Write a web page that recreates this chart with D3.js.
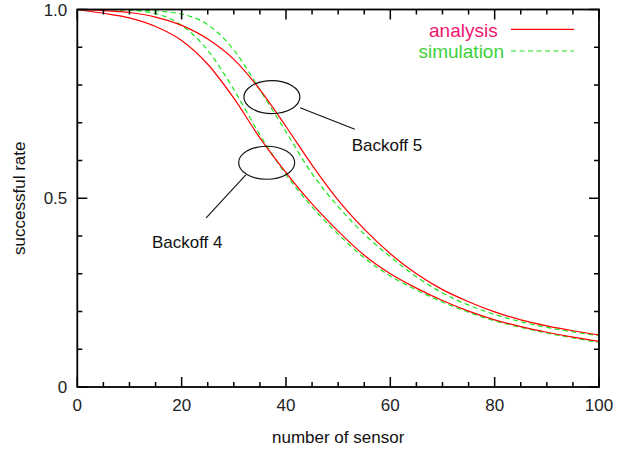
<!DOCTYPE html>
<html>
<head>
<meta charset="utf-8">
<script src="https://cdn.jsdelivr.net/npm/d3@7/dist/d3.min.js"></script>
<style>
  html, body { margin: 0; padding: 0; background: #fff; }
  svg { display: block; font-family: "Liberation Sans", Arial, sans-serif; }
</style>
</head>
<body>
<svg id="chart" width="618" height="454"></svg>
<script>
// Number of sensors (x) at which every series is sampled
const sensors = [0, 5, 10, 15, 20, 25, 30, 35, 40, 45, 50, 55, 60, 65, 70, 75, 80, 85, 90, 95, 100];

// Successful rate, analytical model
const analysisBackoff4 = [1.000, 0.990, 0.978, 0.955, 0.918, 0.855, 0.765, 0.660, 0.568, 0.485, 0.413,
                          0.349, 0.300, 0.262, 0.229, 0.201, 0.178, 0.160, 0.145, 0.132, 0.121];
const analysisBackoff5 = [1.000, 0.997, 0.992, 0.980, 0.958, 0.922, 0.868, 0.788, 0.690, 0.588, 0.495,
                          0.418, 0.353, 0.300, 0.258, 0.226, 0.199, 0.178, 0.162, 0.149, 0.138];

// Successful rate, simulation
const simulationBackoff4 = [1.000, 1.000, 0.998, 0.989, 0.958, 0.892, 0.788, 0.668, 0.563, 0.477, 0.405,
                            0.342, 0.294, 0.257, 0.225, 0.198, 0.175, 0.158, 0.143, 0.130, 0.118];
const simulationBackoff5 = [1.000, 1.000, 0.999, 0.996, 0.988, 0.960, 0.893, 0.787, 0.676, 0.565, 0.478,
                            0.405, 0.345, 0.292, 0.249, 0.217, 0.192, 0.173, 0.158, 0.146, 0.136];

// Axis ticks
const xMajorTicks = [0, 20, 40, 60, 80, 100];
const xMinorTicks = d3.range(0, 101, 5);
const yMajorTicks = [0, 0.5, 1.0];
const yMajorLabels = ["0", "0.5", "1.0"];
const yMinorTicks = d3.range(0, 1.001, 0.1);

// Legend entries
const legendLabels = ["analysis", "simulation"];

// Annotations: ellipse centre, leader line (from, to) and label anchor, in data units
const annotationNames = ["Backoff 5", "Backoff 4"];
const annotationCentres = [[37.3, 0.768], [36.3, 0.594]];
const annotationLeaders = [[[42.7, 0.740], [53.2, 0.683]], [[32.3, 0.562], [24.7, 0.448]]];
const annotationLabelAt = [[52.6, 0.625], [14.3, 0.368]];

const W = 618, H = 454;
const margin = { left: 77.3, right: 19, top: 9.5, bottom: 67 };

const x = d3.scaleLinear().domain([0, 100]).range([margin.left, W - margin.right]);
const y = d3.scaleLinear().domain([0, 1]).range([H - margin.bottom, margin.top]);

const svg = d3.select("#chart");

const RED = "#ff0000";
const GREEN = "#19e619";
const DASH = "5,3.5";

// Curves
const line = d3.line()
  .x(d => x(d[0]))
  .y(d => y(d[1]))
  .curve(d3.curveMonotoneX);

const series = [
  { values: simulationBackoff4, color: GREEN, dash: DASH },
  { values: simulationBackoff5, color: GREEN, dash: DASH },
  { values: analysisBackoff4, color: RED, dash: null },
  { values: analysisBackoff5, color: RED, dash: null }
];

svg.append("g").selectAll("path")
  .data(series)
  .join("path")
  .attr("d", s => line(sensors.map((v, i) => [v, s.values[i]])))
  .attr("fill", "none")
  .attr("stroke", s => s.color)
  .attr("stroke-width", 1.2)
  .attr("stroke-dasharray", s => s.dash);

// Frame with inward ticks on all four sides
const frame = svg.append("g");
const x0 = x(0), x1 = x(100), y0 = y(0), y1 = y(1);

const tickLines = [];
xMinorTicks.forEach(t => {
  const len = xMajorTicks.includes(t) ? 10 : 5;
  tickLines.push([x(t), y0, x(t), y0 - len]);
  tickLines.push([x(t), y1, x(t), y1 + len]);
});
yMinorTicks.forEach(t => {
  const major = yMajorTicks.some(m => Math.abs(m - t) < 1e-6);
  const len = major ? 10 : 5;
  tickLines.push([x0, y(t), x0 + len, y(t)]);
  tickLines.push([x1, y(t), x1 - len, y(t)]);
});
frame.selectAll("line.tick")
  .data(tickLines)
  .join("line")
  .attr("class", "tick")
  .attr("x1", d => d[0]).attr("y1", d => d[1])
  .attr("x2", d => d[2]).attr("y2", d => d[3])
  .attr("stroke", "#000")
  .attr("stroke-width", 1.5);

frame.append("rect")
  .attr("x", x0).attr("y", y1)
  .attr("width", x1 - x0).attr("height", y0 - y1)
  .attr("fill", "none")
  .attr("stroke", "#000")
  .attr("stroke-width", 1.8);

// Tick labels
svg.append("g").selectAll("text")
  .data(xMajorTicks)
  .join("text")
  .attr("x", d => x(d))
  .attr("y", y0 + 24)
  .attr("text-anchor", "middle")
  .attr("font-size", 17)
  .attr("fill", "#222")
  .text(d => d);

svg.append("g").selectAll("text")
  .data(yMajorTicks)
  .join("text")
  .attr("x", x0 - 10)
  .attr("y", d => y(d) + 6)
  .attr("text-anchor", "end")
  .attr("font-size", 17)
  .attr("fill", "#222")
  .text((d, i) => yMajorLabels[i]);

// Axis titles
svg.append("text")
  .attr("x", (x0 + x1) / 2)
  .attr("y", 443)
  .attr("text-anchor", "middle")
  .attr("font-size", 17)
  .attr("fill", "#111")
  .text("number of sensor");

svg.append("text")
  .attr("transform", `translate(25,${(y0 + y1) / 2}) rotate(-90)`)
  .attr("text-anchor", "middle")
  .attr("font-size", 17)
  .attr("fill", "#111")
  .text("successful rate");

// Legend
const legend = svg.append("g");
const legendRows = [
  { label: legendLabels[0], textColor: "#f0156e", stroke: RED, dash: null, tx: 497.7, ty: 36.7, ly: 29.3 },
  { label: legendLabels[1], textColor: "#3dd13d", stroke: GREEN, dash: DASH, tx: 504, ty: 58.3, ly: 51 }
];
legend.selectAll("text")
  .data(legendRows)
  .join("text")
  .attr("x", d => d.tx)
  .attr("y", d => d.ty)
  .attr("text-anchor", "end")
  .attr("font-size", 19)
  .attr("fill", d => d.textColor)
  .text(d => d.label);
legend.selectAll("line")
  .data(legendRows)
  .join("line")
  .attr("x1", 511).attr("x2", 574)
  .attr("y1", d => d.ly).attr("y2", d => d.ly)
  .attr("stroke", d => d.stroke)
  .attr("stroke-width", 1.2)
  .attr("stroke-dasharray", d => d.dash);

// Annotations
const notes = svg.append("g");
annotationNames.forEach((name, i) => {
  notes.append("ellipse")
    .attr("cx", x(annotationCentres[i][0]))
    .attr("cy", y(annotationCentres[i][1]))
    .attr("rx", 28).attr("ry", 16.5)
    .attr("fill", "none")
    .attr("stroke", "#111")
    .attr("stroke-width", 1.2);
  const [a, b] = annotationLeaders[i];
  notes.append("line")
    .attr("x1", x(a[0])).attr("y1", y(a[1]))
    .attr("x2", x(b[0])).attr("y2", y(b[1]))
    .attr("stroke", "#111")
    .attr("stroke-width", 1.1);
  notes.append("text")
    .attr("x", x(annotationLabelAt[i][0]))
    .attr("y", y(annotationLabelAt[i][1]))
    .attr("font-size", 17)
    .attr("fill", "#111")
    .text(name);
});
</script>
</body>
</html>
